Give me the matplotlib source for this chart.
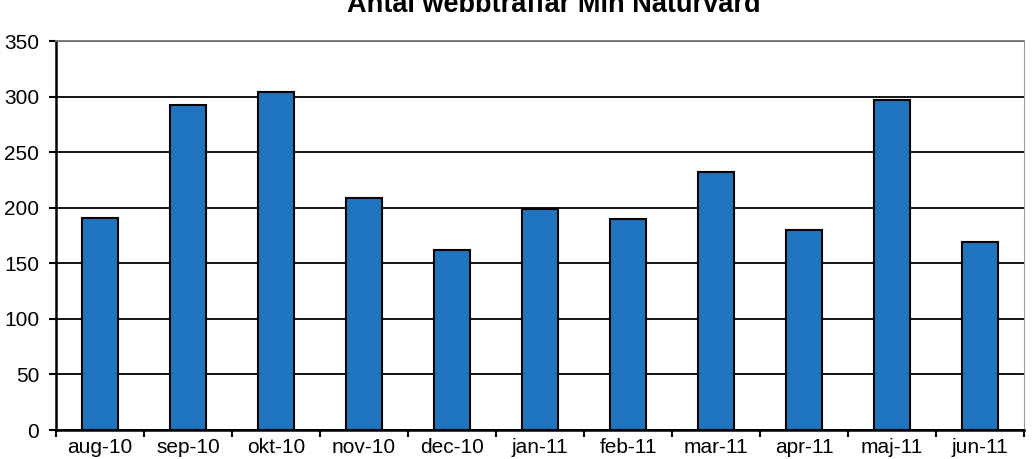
import matplotlib
matplotlib.use("Agg")
import numpy as np
import matplotlib.pyplot as plt

months = ["aug-10", "sep-10", "okt-10", "nov-10", "dec-10", "jan-11",
          "feb-11", "mar-11", "apr-11", "maj-11", "jun-11"]
hits = [191, 292, 304, 209, 162, 199, 190, 232, 180, 297, 169]
yticks = [0, 50, 100, 150, 200, 250, 300, 350]

plt.rcParams['font.family'] = ['Liberation Sans', 'DejaVu Sans']

fig = plt.figure(figsize=(10.35, 4.59), dpi=100)
ax = fig.add_axes([56/1035, 29/459, 968/1035, 389/459])

x = np.arange(len(months))
ax.bar(x, hits, width=0.4, color='#1f74c0', edgecolor='black', linewidth=1.5, zorder=3)

ax.set_xlim(-0.5, len(months) - 0.5)
ax.set_ylim(0, 350)
ax.set_yticks(yticks)
ax.yaxis.grid(True, color='black', linewidth=1.3, zorder=0)

ax.set_xticks(x)
ax.set_xticklabels(months, fontsize=15)
ax.set_xticks(np.arange(-0.5, len(months)), minor=True)
ax.tick_params(axis='x', which='major', length=0, pad=6)
ax.tick_params(axis='x', which='minor', length=5, width=1.5, direction='out')
ax.tick_params(axis='y', length=5, width=1.5, labelsize=15, pad=7)

for s in ['left', 'bottom']:
    ax.spines[s].set_linewidth(1.8)
    ax.spines[s].set_color('black')
ax.spines['right'].set_color('#999999')
ax.spines['top'].set_color('#777777')
ax.spines['top'].set_linewidth(1.3)

# title sits partly above the top edge, as in the original
fig.text(554/1035, 1 - 12/459, "Antal webbträffar Min Naturvård", ha='center', va='baseline',
         fontsize=19.5, fontweight='bold')

fig.savefig("out.png", dpi=100)
